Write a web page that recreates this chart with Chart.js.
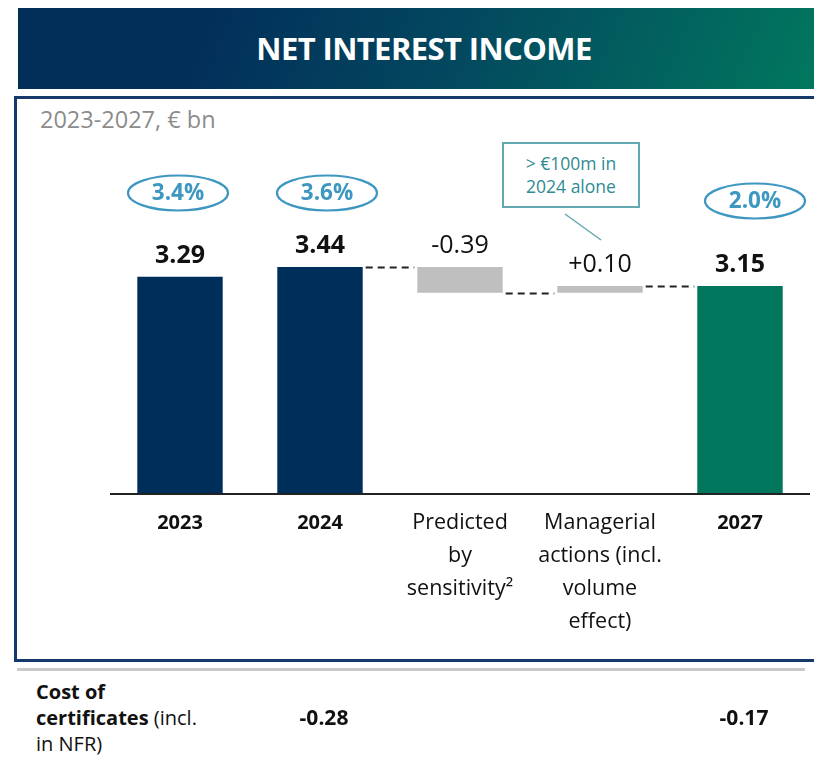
<!DOCTYPE html>
<html>
<head>
<meta charset="utf-8">
<script src="https://cdn.jsdelivr.net/npm/chart.js@4.4.1/dist/chart.umd.min.js"></script>
<style>
  html, body { margin: 0; padding: 0; background: #fff; }
  body { width: 814px; height: 763px; position: relative; overflow: hidden; font-family: "Open Sans", sans-serif; }
  .header {
    position: absolute; left: 18px; top: 8px; width: 800px; height: 81px;
    background: linear-gradient(112deg, #022e5a 0%, #022e5a 22%, #03485f 55%, #01785e 100%);
    color: #fff; font-weight: 700; font-size: 31px; letter-spacing: -0.6px;
  }
  .header span { position: absolute; left: 0; top: 19px; width: 812px; text-align: center; }
  .box {
    position: absolute; left: 14px; top: 96px; width: 820px; height: 560px;
    border: 3px solid #15396b; border-right: none;
  }
  .subtitle { position: absolute; left: 40px; top: 103px; font-size: 23.5px; color: #8c8c8c; }
  .rule { position: absolute; left: 17px; top: 668px; width: 788px; height: 3px; background: #c9c9c9; }
  .rowlabel { position: absolute; left: 36px; top: 679px; font-size: 20px; line-height: 26px; color: #111; }
  .rowlabel b { font-weight: 700; }
  .callout {
    position: absolute; left: 502px; top: 142px; width: 134px; height: 62px;
    border: 2px solid #62a9b1; color: #2f8a93; font-size: 17.5px; line-height: 23px;
    text-align: center; display: flex; align-items: center; justify-content: center;
  }
  svg.leader { position: absolute; left: 0; top: 0; }
  canvas { position: absolute; left: 0; top: 0; }
</style>
</head>
<body>
<div class="header"><span>NET INTEREST INCOME</span></div>
<div class="box"></div>
<div class="subtitle">2023-2027, € bn</div>
<div class="callout">&gt; €100m in<br>2024 alone</div>
<svg class="leader" width="814" height="763"><line x1="565" y1="214" x2="601" y2="240" stroke="#62a9b1" stroke-width="1.5"/></svg>
<div class="rule"></div>
<div class="rowlabel"><b>Cost of</b><br><b>certificates</b> (incl.<br>in NFR)</div>
<canvas id="nii" width="814" height="763"></canvas>
<script>
// --- Data ---
const categories = [
  ['2023'],
  ['2024'],
  ['Predicted', 'by', 'sensitivity²'],
  ['Managerial', 'actions (incl.', 'volume', 'effect)'],
  ['2027']
];
const stepTypes = ['total', 'total', 'delta', 'delta', 'total'];
const stepValues = [3.29, 3.44, -0.39, 0.10, 3.15];
const nimLabels = ['3.4%', '3.6%', null, null, '2.0%'];
const certificateCosts = [null, -0.28, null, null, -0.17];

// floating ranges for the waterfall
let running = 0;
const ranges = stepValues.map((v, i) => {
  if (stepTypes[i] === 'total') { running = v; return [0, v]; }
  const r = [running, running + v];
  running += v;
  return r;
});
const levels = ranges.map(r => r[1]);

const FONT = '"Open Sans", sans-serif';

const waterfallDeco = {
  id: 'waterfallDeco',
  afterDatasetsDraw(chart) {
    const { ctx, chartArea, scales } = chart;
    const x = scales.x, y = scales.y;
    const bars = chart.getDatasetMeta(0).data;
    const y0 = y.getPixelForValue(0);
    ctx.save();

    // baseline
    ctx.strokeStyle = '#222';
    ctx.lineWidth = 2;
    ctx.beginPath();
    ctx.moveTo(chartArea.left, y0);
    ctx.lineTo(chartArea.right, y0);
    ctx.stroke();

    // dashed connectors
    ctx.setLineDash([7, 5]);
    ctx.lineWidth = 1.8;
    for (let i = 1; i < bars.length - 1; i++) {
      const ly = Math.round(y.getPixelForValue(levels[i])) + 0.5;
      ctx.beginPath();
      ctx.moveTo(bars[i].x + bars[i].width / 2 + 3, ly);
      ctx.lineTo(bars[i + 1].x - bars[i + 1].width / 2 - 3, ly);
      ctx.stroke();
    }
    ctx.setLineDash([]);

    // value labels
    ctx.textAlign = 'center';
    ctx.textBaseline = 'middle';
    ctx.fillStyle = '#111';
    stepValues.forEach((v, i) => {
      const top = y.getPixelForValue(Math.max(ranges[i][0], ranges[i][1]));
      let txt;
      if (stepTypes[i] === 'total') {
        ctx.font = '700 25px ' + FONT;
        txt = v.toFixed(2);
      } else {
        ctx.font = '400 25px ' + FONT;
        txt = (v > 0 ? '+' : '-') + Math.abs(v).toFixed(2);
      }
      ctx.fillText(txt, bars[i].x, top - 21);
    });

    // NIM ellipses
    const ellDx = [-2, 7, 0, 0, 15];
    const ellY = [193, 193, 0, 0, 201];
    nimLabels.forEach((t, i) => {
      if (!t) return;
      const cx = bars[i].x + ellDx[i], cy = ellY[i];
      ctx.strokeStyle = '#3d97c0';
      ctx.lineWidth = 2.2;
      ctx.beginPath();
      ctx.ellipse(cx, cy, 50, 17.5, 0, 0, Math.PI * 2);
      ctx.stroke();
      ctx.fillStyle = '#3d97c0';
      ctx.font = '700 22.5px ' + FONT;
      ctx.fillText(t, cx, cy + 1);
    });

    // category labels
    ctx.fillStyle = '#111';
    categories.forEach((lines, i) => {
      ctx.font = (stepTypes[i] === 'total' ? '700 20px ' : '400 21.5px ') + FONT;
      lines.forEach((ln, k) => {
        ctx.fillText(ln, x.getPixelForValue(i), y0 + 29 + k * 33);
      });
    });

    // cost of certificates row
    ctx.font = '700 21px ' + FONT;
    certificateCosts.forEach((c, i) => {
      if (c === null) return;
      ctx.fillText(c.toFixed(2), x.getPixelForValue(i) + 4, 719);
    });

    ctx.restore();
  }
};

new Chart(document.getElementById('nii'), {
  type: 'bar',
  data: {
    labels: categories,
    datasets: [{
      data: ranges,
      backgroundColor: ['#002e5b', '#002e5b', '#bfbfbf', '#bfbfbf', '#00765c'],
      borderWidth: 0,
      borderSkipped: false,
      barPercentage: 0.61,
      categoryPercentage: 1
    }]
  },
  options: {
    responsive: false,
    animation: false,
    layout: { padding: { left: 110, right: 4, top: 164, bottom: 269 } },
    scales: {
      x: { display: false },
      y: { display: false, min: 0, max: 5 }
    },
    plugins: { legend: { display: false }, tooltip: { enabled: false } }
  },
  plugins: [waterfallDeco]
});
</script>
</body>
</html>
